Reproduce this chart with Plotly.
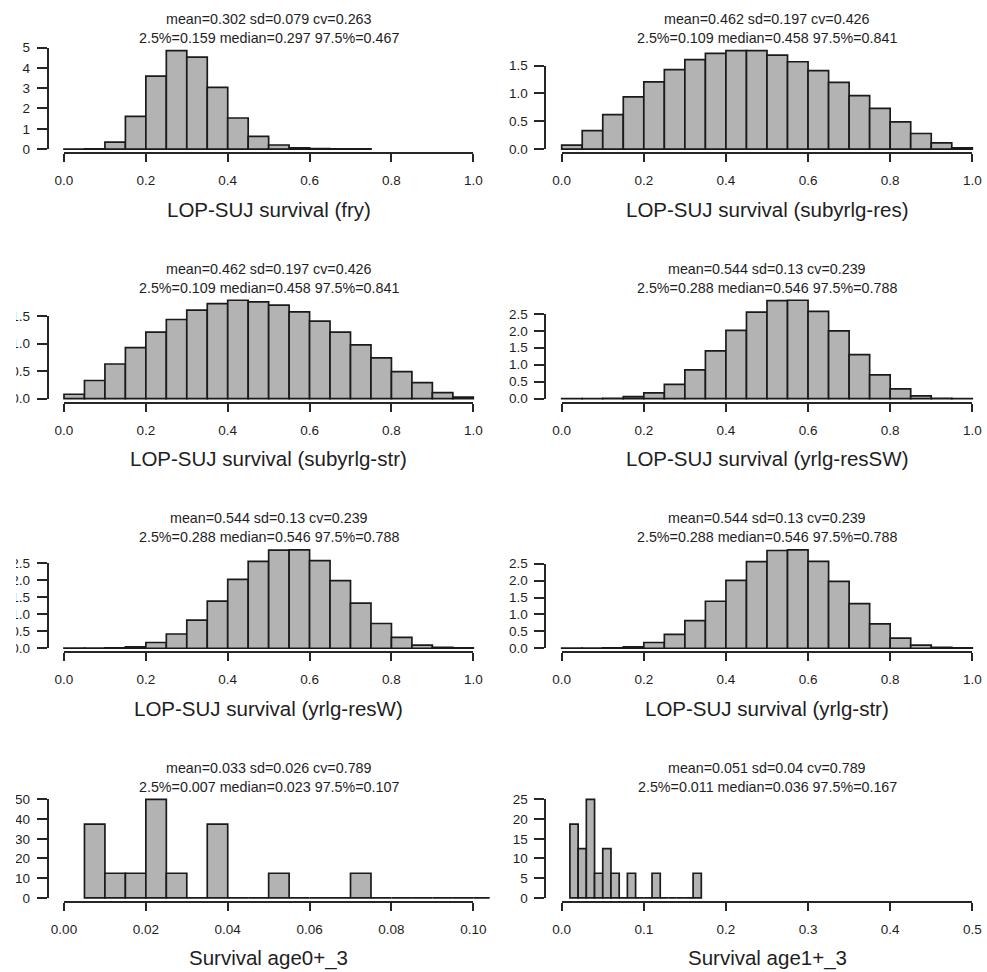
import plotly.graph_objects as go

W, H = 987, 972

# ---------------- data ----------------
xlabels = [
    "LOP-SUJ survival (fry)", "LOP-SUJ survival (subyrlg-res)",
    "LOP-SUJ survival (subyrlg-str)", "LOP-SUJ survival (yrlg-resSW)",
    "LOP-SUJ survival (yrlg-resW)", "LOP-SUJ survival (yrlg-str)",
    "Survival age0+_3", "Survival age1+_3",
]
stats_line1 = [
    "mean=0.302 sd=0.079 cv=0.263", "mean=0.462 sd=0.197 cv=0.426",
    "mean=0.462 sd=0.197 cv=0.426", "mean=0.544 sd=0.13 cv=0.239",
    "mean=0.544 sd=0.13 cv=0.239", "mean=0.544 sd=0.13 cv=0.239",
    "mean=0.033 sd=0.026 cv=0.789", "mean=0.051 sd=0.04 cv=0.789",
]
stats_line2 = [
    "2.5%=0.159 median=0.297 97.5%=0.467", "2.5%=0.109 median=0.458 97.5%=0.841",
    "2.5%=0.109 median=0.458 97.5%=0.841", "2.5%=0.288 median=0.546 97.5%=0.788",
    "2.5%=0.288 median=0.546 97.5%=0.788", "2.5%=0.288 median=0.546 97.5%=0.788",
    "2.5%=0.007 median=0.023 97.5%=0.107", "2.5%=0.011 median=0.036 97.5%=0.167",
]

breaks_fry = [0.00, 0.05, 0.10, 0.15, 0.20, 0.25, 0.30, 0.35, 0.40, 0.45, 0.50,
              0.55, 0.60, 0.65, 0.70, 0.75]
breaks_unit = [0.00, 0.05, 0.10, 0.15, 0.20, 0.25, 0.30, 0.35, 0.40, 0.45, 0.50,
               0.55, 0.60, 0.65, 0.70, 0.75, 0.80, 0.85, 0.90, 0.95, 1.00]
breaks_age0 = [0.005, 0.010, 0.015, 0.020, 0.025, 0.030, 0.035, 0.040, 0.045,
               0.050, 0.055, 0.060, 0.065, 0.070, 0.075, 0.080, 0.085, 0.090,
               0.095, 0.100, 0.105, 0.110, 0.115, 0.120, 0.125, 0.130]
breaks_age1 = [0.01, 0.02, 0.03, 0.04, 0.05, 0.06, 0.07, 0.08, 0.09, 0.10, 0.11,
               0.12, 0.13, 0.14, 0.15, 0.16, 0.17]

dens_fry = [0.004, 0.01, 0.34, 1.61, 3.59, 4.85, 4.53, 3.04, 1.53, 0.63, 0.20,
            0.06, 0.02, 0.01, 0.005]
dens_subyrlg_res = [0.07, 0.33, 0.62, 0.94, 1.21, 1.43, 1.61, 1.72, 1.77, 1.77,
                    1.69, 1.57, 1.41, 1.20, 0.96, 0.73, 0.49, 0.28, 0.11, 0.02]
dens_subyrlg_str = [0.08, 0.33, 0.63, 0.93, 1.21, 1.44, 1.61, 1.73, 1.79, 1.76,
                    1.70, 1.58, 1.41, 1.21, 0.98, 0.74, 0.49, 0.29, 0.11, 0.03]
dens_yrlg_resSW = [0.005, 0.005, 0.01, 0.06, 0.17, 0.42, 0.85, 1.41, 2.01, 2.55,
                   2.89, 2.90, 2.57, 2.00, 1.30, 0.70, 0.29, 0.08, 0.01, 0.005]
dens_yrlg_resW = [0.003, 0.003, 0.01, 0.04, 0.17, 0.42, 0.83, 1.39, 2.03, 2.56,
                  2.89, 2.90, 2.58, 1.99, 1.33, 0.73, 0.32, 0.09, 0.03, 0.01]
dens_yrlg_str = [0.003, 0.003, 0.01, 0.04, 0.17, 0.41, 0.82, 1.39, 2.01, 2.56,
                 2.89, 2.91, 2.57, 1.98, 1.32, 0.72, 0.30, 0.09, 0.03, 0.01]
dens_age0 = [37.5, 12.5, 12.5, 50.0, 12.5, 0, 37.5, 0, 0, 12.5, 0, 0, 0, 12.5,
             0, 0, 0, 0, 0, 0, 0, 0, 0, 0, 12.5]
dens_age1 = [18.75, 12.5, 25.0, 6.25, 12.5, 6.25, 0, 6.25, 0, 0, 6.25, 0, 0, 0,
             0, 6.25]

breaks_list = [breaks_fry, breaks_unit, breaks_unit, breaks_unit, breaks_unit,
               breaks_unit, breaks_age0, breaks_age1]
dens_list = [dens_fry, dens_subyrlg_res, dens_subyrlg_str, dens_yrlg_resSW,
             dens_yrlg_resW, dens_yrlg_str, dens_age0, dens_age1]

xticks_unit = [0.0, 0.2, 0.4, 0.6, 0.8, 1.0]
xtext_unit = ["0.0", "0.2", "0.4", "0.6", "0.8", "1.0"]
xticks_age0 = [0.00, 0.02, 0.04, 0.06, 0.08, 0.10]
xtext_age0 = ["0.00", "0.02", "0.04", "0.06", "0.08", "0.10"]
xticks_age1 = [0.0, 0.1, 0.2, 0.3, 0.4, 0.5]
xtext_age1 = ["0.0", "0.1", "0.2", "0.3", "0.4", "0.5"]
xticks_list = [xticks_unit] * 6 + [xticks_age0, xticks_age1]
xtext_list = [xtext_unit] * 6 + [xtext_age0, xtext_age1]

yticks_fry = [0, 1, 2, 3, 4, 5]
ytext_fry = ["0", "1", "2", "3", "4", "5"]
yticks_sub = [0.0, 0.5, 1.0, 1.5]
ytext_sub = ["0.0", "0.5", "1.0", "1.5"]
yticks_yr = [0.0, 0.5, 1.0, 1.5, 2.0, 2.5]
ytext_yr = ["0.0", "0.5", "1.0", "1.5", "2.0", "2.5"]
yticks_age0 = [0, 10, 20, 30, 40, 50]
ytext_age0 = ["0", "10", "20", "30", "40", "50"]
yticks_age1 = [0, 5, 10, 15, 20, 25]
ytext_age1 = ["0", "5", "10", "15", "20", "25"]
yticks_list = [yticks_fry, yticks_sub, yticks_sub, yticks_yr, yticks_yr,
               yticks_yr, yticks_age0, yticks_age1]
ytext_list = [ytext_fry, ytext_sub, ytext_sub, ytext_yr, ytext_yr, ytext_yr,
              ytext_age0, ytext_age1]

# ---------------- layout geometry (pixels) ----------------
COL_TICK_PX = [(64.0, 473.3), (561.7, 972.3)]
ROW_TOP0, ROW_BOT0, ROW_STEP = 46.7, 153.0, 249.6
FONT = "Liberation Sans, Arial, Helvetica, sans-serif"
TXT = "#1e1e1e"
AX = "#262626"


def fx(px):
    return px / W


def fy(py):
    return 1 - py / H


fig = go.Figure()
layout = dict(
    template="none",
    width=W, height=H, margin=dict(l=0, r=0, t=0, b=0, pad=0, autoexpand=False),
    paper_bgcolor="white", plot_bgcolor="rgba(0,0,0,0)",
    showlegend=False, annotations=[], shapes=[],
    font=dict(family=FONT, color=TXT),
)

for k in range(8):
    row, col = k // 2, k % 2
    br = breaks_list[k]
    dens = dens_list[k]
    centers = [(br[i] + br[i + 1]) / 2 for i in range(len(dens))]
    widths = [br[i + 1] - br[i] for i in range(len(dens))]

    xt = xticks_list[k]
    t0, t1 = xt[0], xt[-1]
    p0, p1 = COL_TICK_PX[col]
    sc = (p1 - p0) / (t1 - t0)
    # R plot region: 4% extension
    rx0, rx1 = t0 - 0.04 * (t1 - t0), t1 + 0.04 * (t1 - t0)
    px0, px1 = p0 + (rx0 - t0) * sc, p0 + (rx1 - t0) * sc
    if px1 > W:
        px1 = W
        rx1 = t0 + (px1 - p0) / sc

    top = ROW_TOP0 + ROW_STEP * row
    bot = ROW_BOT0 + ROW_STEP * row
    M = max(dens)
    ry0, ry1 = -0.04 * M, 1.04 * M
    ysc = (bot - top) / (ry1 - ry0)

    def ypx(v):
        return bot - (v - ry0) * ysc

    yt = yticks_list[k]

    i_main = k + 1
    i_tick = k + 9
    xm, ym = f"x{i_main}", f"y{i_main}"
    xk, yk = f"x{i_tick}", f"y{i_tick}"

    fig.add_trace(go.Bar(
        x=centers, y=dens, width=widths, xaxis=xm, yaxis=ym,
        marker=dict(color="#B3B3B3", line=dict(color="#1a1a1a", width=1.7)),
        hoverinfo="skip",
    ))
    fig.add_trace(go.Scatter(x=[None], y=[None], xaxis=xk, yaxis=yk,
                             mode="markers", hoverinfo="skip"))

    layout[f"xaxis{i_main}"] = dict(
        domain=[fx(px0), fx(px1)], range=[rx0, rx1], visible=False,
        anchor=ym, fixedrange=True, automargin=False)
    layout[f"yaxis{i_main}"] = dict(
        domain=[fy(bot), fy(top)], range=[ry0, ry1], visible=False,
        anchor=xm, fixedrange=True, automargin=False)
    layout[f"xaxis{i_tick}"] = dict(
        domain=[fx(p0), fx(p1)], range=[t0, t1], anchor="free",
        position=fy(bot), showline=True, linecolor=AX, linewidth=1.8,
        ticks="outside", ticklen=8, tickwidth=1.8, tickcolor=AX,
        tickvals=xt, ticktext=xtext_list[k], showgrid=False, zeroline=False,
        tickfont=dict(size=13.5, color=TXT, family=FONT),
        ticklabelstandoff=7, fixedrange=True, automargin=False)
    layout[f"yaxis{i_tick}"] = dict(
        domain=[fy(ypx(yt[0])), fy(ypx(yt[-1]))], range=[yt[0], yt[-1]],
        anchor="free", position=fx(px0), showline=True, linecolor=AX,
        linewidth=1.8, ticks="outside", ticklen=10, tickwidth=1.8,
        tickcolor=AX, tickvals=yt, ticktext=ytext_list[k], showgrid=False,
        zeroline=False, tickfont=dict(size=13.5, color=TXT, family=FONT),
        ticklabelstandoff=4, fixedrange=True, automargin=False)

    cx = fx((p0 + p1) / 2)
    layout["annotations"].append(dict(
        text=stats_line1[k], x=cx, y=fy(19 + ROW_STEP * row), xref="paper",
        yref="paper", xanchor="center", yanchor="middle", showarrow=False,
        font=dict(size=14.3, color=TXT, family=FONT)))
    layout["annotations"].append(dict(
        text=stats_line2[k], x=cx, y=fy(38 + ROW_STEP * row), xref="paper",
        yref="paper", xanchor="center", yanchor="middle", showarrow=False,
        font=dict(size=14.3, color=TXT, family=FONT)))
    layout["annotations"].append(dict(
        text=xlabels[k], x=cx, y=fy(209 + ROW_STEP * row), xref="paper",
        yref="paper", xanchor="center", yanchor="middle", showarrow=False,
        font=dict(size=20.5, color=TXT, family=FONT)))

# left edge of the original image is cropped
layout["shapes"].append(dict(
    type="rect", xref="paper", yref="paper", x0=0, x1=fx(16), y0=0, y1=1,
    fillcolor="white", line=dict(width=0), layer="above"))

fig.update_layout(**layout)
fig.write_html("out.html", config={"displayModeBar": False},
               post_script="document.body.style.margin='0';")
